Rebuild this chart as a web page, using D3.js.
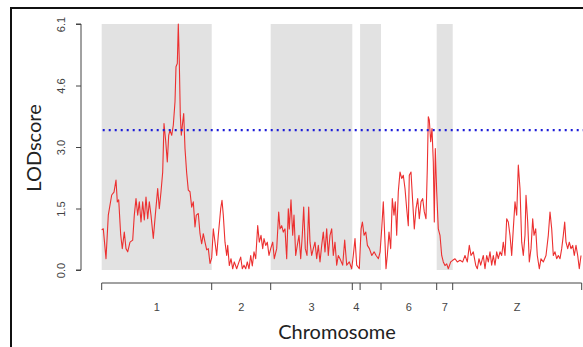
<!DOCTYPE html>
<html>
<head>
<meta charset="utf-8">
<script src="https://cdn.jsdelivr.net/npm/d3@7"></script>
<style>
  body { margin: 0; background: #fff; }
  svg { display: block; }
</style>
</head>
<body>
<script>
// chromosomes and their lengths (cM)
let chrNames = ['1', '2', '3', '4', '5', '6', '7', 'Z'];
let chrLabels = ['1', '2', '3', '4', '', '6', '7', 'Z'];   // label for 5 is dropped in the original
let chrLengths = [110, 59, 81.6, 7.8, 20.9, 55.7, 16, 129];

// y axis ticks (0, max/4, max/2, 3max/4, max)
let yTicks = [0, 1.525, 3.05, 4.575, 6.1];
let threshold = 3.47;

// LOD profile, [position within chromosome, LOD]
let lod1 = [[0,1.0],[1.6,1.02],[4.3,0.28],[6.6,1.36],[10,1.86],[12.3,1.93],[14.3,2.23],[15.6,1.69],[17,1.74],[19,0.87],
  [20.6,0.53],[22.6,0.94],[24.3,0.53],[26,0.45],[28.3,0.69],[31,0.74],[32.6,1.36],[34.3,1.77],[36,1.36],[37.6,1.69],
  [39.3,1.19],[41,1.69],[42.6,1.24],[44.3,1.81],[46,1.27],[47.6,1.69],[49.3,1.36],[51.6,0.78],[53.6,1.36],[56,2.02],
  [57.6,1.52],[59.3,1.94],[61,2.43],[62.3,3.63],[64,3.2],[65.6,2.68],[67,3.34],[68.3,3.47],[70,3.34],[71.6,3.59],
  [73.3,4.17],[74.3,5.04],[75.6,5.12],[76.6,6.1],[77.6,5.16],[78.6,3.84],[79.6,3.34],[81,3.67],[82,3.88],[83.3,3.01],
  [85,2.4],[86.6,1.98],[88.3,1.94],[90,1.56],[91.6,1.69],[93.3,1.07],[94.6,1.36],[96.6,1.4],[98.3,0.9],[100,0.65],
  [101.6,0.9],[103.3,0.69],[105,0.5],[106.6,0.53],[108.3,0.16],[110,0.3]];
let lod2 = [[1.6,1.02],[3.3,0.69],[5,0.36],[6.6,0.86],[9,1.52],[10.3,1.73],[11.6,1.36],[13.3,0.69],[15,0.36],[16,0.61],
  [17.6,0.11],[19.3,0.28],[21,0.03],[22.6,0.2],[25,0.03],[27.3,0.2],[29,0.32],[30.6,0.03],[32.3,0.12],[34,0.03],
  [35.6,0.2],[37.3,0.03],[39,0.36],[40.6,0.1],[42.3,0.45],[44,0.28],[46,1.1],[47.6,0.69],[49.3,0.86],[51,0.53],
  [52.3,0.78],[54,0.61],[55.6,0.69],[57.3,0.36],[59,0.53]];
let lod3 = [[2,0.69],[3.6,0.28],[6,0.53],[8,1.44],[9.3,1.02],[11,1.1],[12.6,0.94],[14.3,1.02],[16,0.28],[17.6,1.52],
  [18.6,1.02],[20.3,1.74],[22,0.86],[23.3,1.36],[25,0.36],[26.6,0.61],[28.3,0.86],[30,0.28],[31.6,0.86],[33,1.56],
  [34.6,0.53],[36.3,0.36],[38,1.56],[39.3,0.69],[41,0.36],[42.6,0.53],[44.3,0.69],[46,0.28],[47.6,0.61],[49.3,0.2],
  [51,0.61],[52.6,0.94],[54.3,0.45],[56,1.02],[57.6,0.36],[59.3,0.86],[61,1.02],[62.6,0.36],[64.3,0.69],[66,0.12],
  [67.6,0.36],[69.3,0.28],[72,0.12],[74,0.74],[76,0.12],[78.6,0.2],[81,0.03]];
let lod4 = [[1,0.36],[2.7,0.78],[4.4,0.12],[7,0.03]];
let lod5 = [[1.0,1.02],[2.3,1.19],[4.0,0.86],[5.7,0.94],[7.3,0.61],[9.3,0.53],[11.7,0.36],[14.0,0.45],[16.0,0.36],
  [18.3,0.28],[20.0,0.45]];
let lod6 = [[0.7,1.02],[2.3,1.69],[4,0.69],[5,0.03],[6.3,0.36],[8,0.94],[9.7,0.53],[11.3,1.77],[13,1.36],[14.3,1.69],
  [15.7,0.86],[17.3,1.94],[19,2.43],[20.7,2.27],[22.3,2.35],[24,2.02],[25.7,1.52],[27.3,1.1],[28.3,2.35],[30,2.43],
  [31.7,1.69],[33.3,1.02],[35,1.52],[36.7,1.77],[38.3,1.27],[40,1.69],[41.7,1.77],[43.3,1.44],[45,1.27],[46.3,2.51],
  [47.3,3.8],[48.3,3.72],[49.7,3.18],[51,3.51],[52.3,2.68],[53.3,1.19],[54.3,3.01],[55.7,1.94]];
let lod7 = [[1.6,1.02],[3.3,0.86],[5,0.36],[6.6,0.2],[8.3,0.11],[10,0.15],[11.6,0.03],[14,0.2],[16,0.24]];
let lodZ = [[2.3,0.28],[4.6,0.2],[7.3,0.24],[10,0.2],[12.3,0.36],[14.6,0.2],[16.6,0.61],[18.3,0.36],[20.6,0.45],[23,0.12],
  [24.6,0.03],[26.3,0.28],[28,0.12],[30.6,0.36],[32.3,0.03],[34,0.36],[35.6,0.2],[37.3,0.45],[39,0.12],[40.6,0.36],
  [42.3,0.12],[44,0.45],[45.6,0.28],[47.3,0.45],[49,0.36],[50.6,0.69],[52.3,0.36],[54,1.27],[55.6,1.19],[57.3,0.86],
  [59,0.36],[60.6,1.02],[62.3,1.69],[64,1.36],[65.6,2.6],[67.3,2.02],[69,0.69],[70.6,0.36],[72.3,0.86],[73.3,1.85],
  [75,1.19],[76.6,0.2],[78.3,0.53],[80,1.27],[81.3,0.86],[83,1.02],[84.6,0.36],[86.6,0.03],[88.3,0.28],[90.6,0.2],
  [93.3,0.36],[95.6,0.86],[97.3,1.44],[99,1.02],[100.6,0.36],[102.3,0.45],[104,0.28],[105.6,0.36],[107.3,0.28],[109,0.53],
  [110.6,0.86],[112,1.19],[113.3,0.69],[115,0.53],[116.6,0.69],[118.3,0.53],[120,0.61],[121.6,0.36],[123.3,0.61],[125,0.36],
  [126.6,0.03],[128.3,0.36]];
let lodByChr = [lod1, lod2, lod3, lod4, lod5, lod6, lod7, lodZ];

let width = 583, height = 347;
let svg = d3.select('body').append('svg')
    .attr('width', width)
    .attr('height', height);

// -- frame of the screenshot -- //
svg.append('rect')
    .attr('x', 11).attr('y', 8)
    .attr('width', 640).attr('height', 400)
    .style('fill', 'none')
    .style('stroke', '#111')
    .style('stroke-width', 2);

// cumulative starts
let chrStarts = [];
let acc = 0;
chrLengths.forEach(len => { chrStarts.push(acc); acc += len; });
let total = acc;

let xScale = d3.scaleLinear().domain([0, total]).range([101.7, 581.7]);
let yScale = d3.scaleLinear().domain([0, 6.1]).range([270, 24]);

// -- alternating grey chromosome blocks -- //
svg.selectAll('.chrbox')
    .data(chrNames.map((c, i) => ({ name: c, i: i })).filter(d => d.i % 2 === 0))
    .enter().append('rect')
    .attr('class', 'chrbox')
    .attr('x', d => xScale(chrStarts[d.i]))
    .attr('y', yScale(6.1))
    .attr('width', d => xScale(chrStarts[d.i] + chrLengths[d.i]) - xScale(chrStarts[d.i]))
    .attr('height', yScale(0) - yScale(6.1))
    .style('fill', '#e2e2e2');

// -- LOD line -- //
let points = [];
lodByChr.forEach((arr, i) => {
    arr.forEach(p => points.push({ pos: chrStarts[i] + p[0], lod: p[1] }));
});
let line = d3.line()
    .x(d => xScale(d.pos))
    .y(d => yScale(d.lod));
svg.append('path')
    .datum(points)
    .attr('d', line)
    .style('fill', 'none')
    .style('stroke', '#ec3030')
    .style('stroke-width', 1.1)
    .style('stroke-linejoin', 'round');

// -- threshold -- //
svg.append('line')
    .attr('x1', xScale(0) + 1).attr('x2', width)
    .attr('y1', yScale(threshold)).attr('y2', yScale(threshold))
    .style('stroke', '#1c1cd8')
    .style('stroke-width', 2.2)
    .style('stroke-dasharray', '2,4');

// -- y axis -- //
let yAxis = d3.axisLeft(yScale)
    .tickValues(yTicks)
    .tickSize(5)
    .tickFormat(d3.format('.1f'));
let yG = svg.append('g')
    .attr('transform', 'translate(81,0)')
    .call(yAxis);
yG.select('.domain').attr('d', 'M-5,' + yScale(6.1) + 'H0V' + yScale(0) + 'H-5').style('stroke', '#444');
yG.selectAll('.tick line').style('stroke', '#444');
yG.selectAll('.tick text')
    .attr('x', null).attr('dy', null)
    .attr('transform', 'translate(-16,0) rotate(-90)')
    .attr('text-anchor', 'middle')
    .style('font-family', 'Liberation Sans, Arial, sans-serif')
    .style('font-size', '11px')
    .style('fill', '#444');

// -- x axis -- //
let bounds = chrStarts.concat([total]);
let xG = svg.append('g').attr('transform', 'translate(0,283)');
xG.append('line')
    .attr('x1', xScale(0)).attr('x2', xScale(total))
    .style('stroke', '#444');
xG.selectAll('.xtick')
    .data(bounds)
    .enter().append('line')
    .attr('class', 'xtick')
    .attr('x1', d => xScale(d)).attr('x2', d => xScale(d))
    .attr('y1', 0).attr('y2', 7)
    .style('stroke', '#444');
xG.selectAll('.xlab')
    .data(chrLabels)
    .enter().append('text')
    .attr('class', 'xlab')
    .attr('x', (d, i) => xScale(chrStarts[i] + chrLengths[i] / 2))
    .attr('y', 28)
    .attr('text-anchor', 'middle')
    .style('font-family', 'Liberation Sans, Arial, sans-serif')
    .style('font-size', '11px')
    .style('fill', '#444')
    .text(d => d);

// -- axis titles -- //
svg.append('text')
    .attr('x', 337).attr('y', 339)
    .attr('text-anchor', 'middle')
    .style('font-family', 'Lato, sans-serif')
    .style('font-size', '20px')
    .style('fill', '#222')
    .text('Chromosome');

svg.append('text')
    .attr('transform', 'translate(41,148) rotate(-90)')
    .attr('text-anchor', 'middle')
    .style('font-family', 'Lato, sans-serif')
    .style('font-size', '20px')
    .style('fill', '#222')
    .text('LODscore');
</script>
</body>
</html>
